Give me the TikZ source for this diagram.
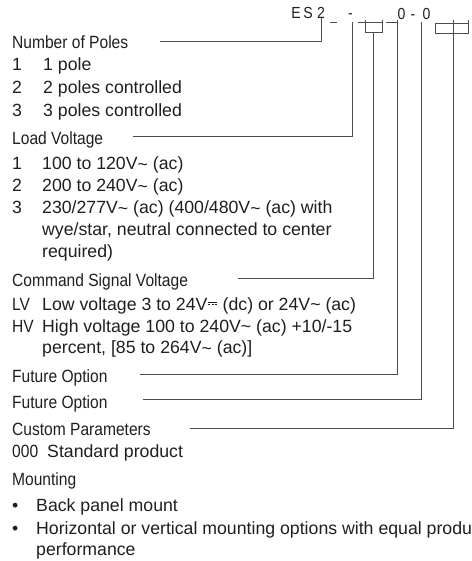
\documentclass[tikz,border=0pt]{standalone}
\usepackage{fontspec}
\setmainfont{Liberation Sans}
\newfontfamily\condf[FakeStretch=0.88]{Liberation Sans}
\newcommand\myfs{\fontsize{17.7}{21}\selectfont}
\newcommand\hdrfs{\fontsize{16}{19}\selectfont}
\newcommand\tld{\raisebox{-0.05em}{\textasciitilde}}
\newcommand\dcsym{\kern0.04em\raisebox{0.40em}{\rlap{\rule{0.5em}{0.06em}}}\raisebox{0.27em}{\rule{0.12em}{0.06em}\kern0.07em\rule{0.12em}{0.06em}\kern0.07em\rule{0.12em}{0.06em}}\kern0.04em}
\begin{document}
\begin{tikzpicture}[x=1pt,y=-1pt,
  txt/.style={anchor=base west, inner sep=0pt, text=black!88, font=\myfs},
  head/.style={txt, font=\myfs\condf},
  hdr/.style={anchor=base, inner sep=0pt, text=black!88, font=\hdrfs\condf},
  conn/.style={draw=black!70, line width=1pt}]
\useasboundingbox (0,0) rectangle (471,561);
\clip (0,0) rectangle (471,561);

% header code
\node[hdr] (hE) at (296,19) {E};
\node[hdr] (hS) at (308,19) {S};
\node[hdr] (h2) at (321,19) {2};
\node[hdr] (hd1) at (350.5,19) {-};
\node[hdr] (h01) at (401.5,20) {0};
\node[hdr] (hd2) at (413,20) {-};
\node[hdr] (h02) at (426.5,20) {0};
\draw[conn] (330,23) -- (337,23);
\draw[conn] (358,23) -- (382,23);
\draw[conn] (365.7,20) -- (365.7,33) -- (382,33) -- (382,20);
\draw[conn] (386,23) -- (397,23);
\draw[conn] (435,24) -- (468,24);
\draw[conn] (435,24) -- (435,34) -- (468,34) -- (468,20);

% connector ends
\coordinate (k1) at (321,18);
\coordinate (k2) at (352,22);
\coordinate (k3) at (373.8,33);
\coordinate (k4) at (397,20);
\coordinate (k5) at (421.7,22);
\coordinate (k6) at (453,20);
\coordinate (s1) at (160,42);
\coordinate (s2) at (133,137);
\coordinate (s3) at (238,278);
\coordinate (s4) at (140,374);
\coordinate (s5) at (143,399);
\coordinate (s6) at (190,428);
\draw[conn] (s1) -| (k1);
\draw[conn] (s2) -| (k2);
\draw[conn] (s3) -| (k3);
\draw[conn] (s4) -| (k4);
\draw[conn] (s5) -| (k5);
\draw[conn] (s6) -| (k6);

% Number of poles
\node[head] (poles) at (12,49) {Number of Poles};
\node[txt] (pn1) at (12,71) {1};
\node[txt] (pt1) at (43,71) {1 pole};
\node[txt] (pn2) at (12,94) {2};
\node[txt] (pt2) at (43,94) {2 poles controlled};
\node[txt] (pn3) at (12,117) {3};
\node[txt] (pt3) at (43,117) {3 poles controlled};

% Load voltage
\node[head] (load) at (12,145) {Load Voltage};
\node[txt] (ln1) at (12,170) {1};
\node[txt] (lt1) at (42,170) {100 to 120V\tld{} (ac)};
\node[txt] (ln2) at (12,192) {2};
\node[txt] (lt2) at (42,192) {200 to 240V\tld{} (ac)};
\node[txt] (ln3) at (12,213.5) {3};
\node[txt] (lt3) at (42,213.5) {230/277V\tld{} (ac) (400/480V\tld{} (ac) with};
\node[txt] (lt3b) at (42,235) {wye/star, neutral connected to center};
\node[txt] (lt3c) at (42,257) {required)};

% Command signal voltage
\node[head] (cmd) at (12,286) {Command Signal Voltage};
\node[head] (cn1) at (12,310) {LV};
\node[txt] (ct1) at (42,310) {Low voltage 3 to 24V\dcsym{} (dc) or 24V\tld{} (ac)};
\node[head] (cn2) at (12,332) {HV};
\node[txt] (ct2) at (42,332) {High voltage 100 to 240V\tld{} (ac) +10/-15};
\node[txt] (ct2b) at (42,353.5) {percent, [85 to 264V\tld{} (ac)]};

% Future options
\node[head] (fut1) at (12,382) {Future Option};
\node[head] (fut2) at (12,408) {Future Option};

% Custom parameters
\node[head] (cust) at (12,435) {Custom Parameters};
\node[head] (cn0) at (12,457) {000};
\node[txt] (ct0) at (47,457) {Standard product};

% Mounting
\node[head] (mount) at (12,485) {Mounting};
\node[txt] (b1) at (12,511) {\textbullet};
\node[txt] (mt1) at (36,511) {Back panel mount};
\node[txt] (b2) at (12,534) {\textbullet};
\node[txt] (mt2) at (36,534) {Horizontal or vertical mounting options with equal product};
\node[txt] (mt2b) at (36,555.5) {performance};
\end{tikzpicture}
\end{document}
